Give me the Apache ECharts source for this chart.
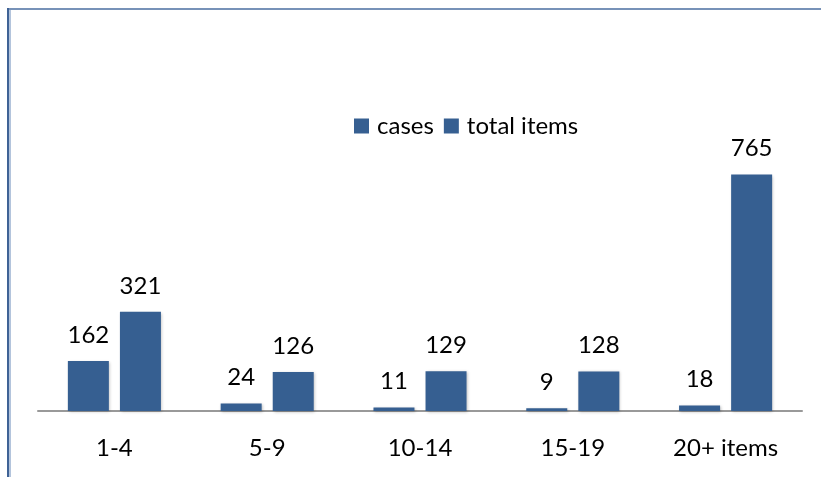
<!DOCTYPE html>
<html>
<head>
<meta charset="utf-8">
<script src="https://cdn.jsdelivr.net/npm/echarts@6/dist/echarts.min.js"></script>
<style>
  html, body { margin: 0; padding: 0; background: #fff; }
  #chart { width: 821px; height: 477px; }
</style>
</head>
<body>
<div id="chart"></div>
<script>
const categories = ['1-4', '5-9', '10-14', '15-19', '20+ items']
const cases = [162, 24, 11, 9, 18]
const totalItems = [321, 126, 129, 128, 765]

const chart = echarts.init(document.getElementById('chart'))
const font = 'Lato, "Open Sans", sans-serif'
const barColor = '#365f91'

const labelStyle = {
  show: true,
  position: 'top',
  distance: 14,
  color: '#000',
  fontSize: 24,
  fontFamily: font
}

chart.setOption({
  animation: false,
  graphic: [
    // frame round the chart
    { type: 'rect', shape: { x: 7, y: 8, width: 814, height: 2 }, style: { fill: '#7792b8' } },
    { type: 'rect', shape: { x: 7, y: 8, width: 2, height: 469 }, style: { fill: '#3f6295' } },
    { type: 'rect', shape: { x: 9, y: 10, width: 2, height: 467 }, style: { fill: '#b3c4dc' } }
  ],
  legend: {
    left: 349,
    top: 109,
    itemWidth: 15,
    itemHeight: 15,
    itemGap: 10,
    icon: 'rect',
    textStyle: { fontSize: 24, fontFamily: font, color: '#000', padding: [0, 0, 0, 3] },
    data: ['cases', 'total items']
  },
  grid: { left: 38, right: 19, top: 102, bottom: 66 },
  xAxis: {
    type: 'category',
    data: categories,
    axisLine: { lineStyle: { color: '#999', width: 2 } },
    axisTick: { show: false },
    axisLabel: { fontSize: 24, fontFamily: font, color: '#000', margin: 25 }
  },
  yAxis: {
    type: 'value',
    min: 0,
    max: 1000,
    show: false,
    splitLine: { show: false }
  },
  series: [
    {
      name: 'cases',
      type: 'bar',
      data: cases,
      barWidth: 41,
      barGap: '27%',
      itemStyle: { color: barColor, shadowColor: 'rgba(0,0,0,0.25)', shadowBlur: 3, shadowOffsetX: 1, shadowOffsetY: 1 },
      label: labelStyle
    },
    {
      name: 'total items',
      type: 'bar',
      data: totalItems,
      barWidth: 41,
      itemStyle: { color: barColor, shadowColor: 'rgba(0,0,0,0.25)', shadowBlur: 3, shadowOffsetX: 1, shadowOffsetY: 1 },
      label: labelStyle
    }
  ]
})
</script>
</body>
</html>
